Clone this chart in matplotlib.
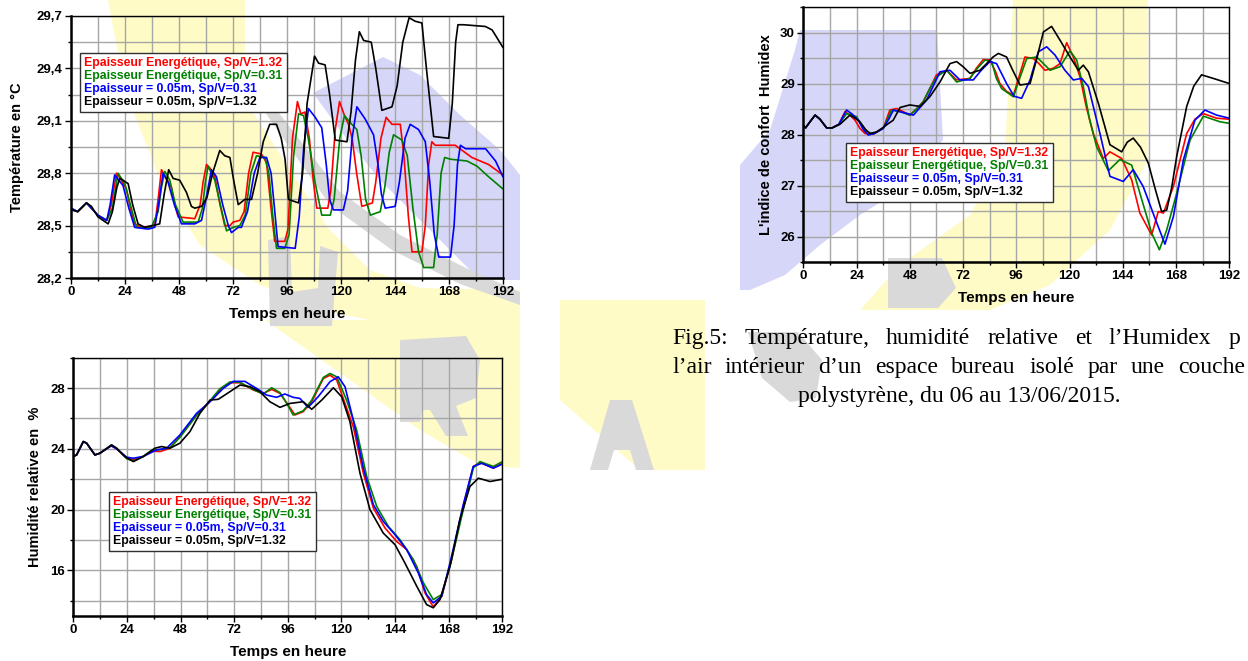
import numpy as np
import matplotlib
matplotlib.use('Agg')
import matplotlib.pyplot as plt
from matplotlib.ticker import MultipleLocator, FuncFormatter
from matplotlib.patches import Polygon

plt.rcParams['font.family'] = ['Liberation Sans', 'DejaVu Sans']

labels = ['Epaisseur Energétique, Sp/V=1.32',
          'Epaisseur Energétique, Sp/V=0.31',
          'Epaisseur = 0.05m, Sp/V=0.31',
          'Epaisseur = 0.05m, Sp/V=1.32']
colors = ['#ff0000', '#008000', '#0000ff', '#000000']

# --- Température (°C) ---
t_red_h = [0, 3, 7, 12, 16, 18, 20.3, 22.5, 24.7, 26.5, 28.4, 31.4, 37.3, 38.8, 40.3, 42.5, 44.7, 46.2, 47.7, 55.1,
           57.5, 58.8, 60.3, 61.8, 64, 66.3, 68.4, 70.7, 72.1, 75.1, 77, 79, 81, 84.7, 87, 88.8, 90.6, 95.1, 96.5,
           98.5, 100.7, 102.2, 104, 106, 107.8, 109.3, 114.2, 115.5, 117.5, 119.4, 121.6, 123.4, 125, 127, 129.3,
           134, 135.5, 137.8, 140.1, 142.7, 146.4, 148, 150, 151.6, 156, 157.5, 159, 160.4, 161.9, 170.8, 178.2,
           185.6, 192]
t_red = [28.60, 28.58, 28.63, 28.56, 28.53, 28.62, 28.80, 28.76, 28.71, 28.60, 28.51, 28.49, 28.50, 28.65, 28.82,
         28.77, 28.72, 28.62, 28.55, 28.54, 28.62, 28.75, 28.85, 28.83, 28.78, 28.62, 28.50, 28.50, 28.52, 28.53,
         28.58, 28.80, 28.92, 28.91, 28.86, 28.62, 28.41, 28.41, 28.48, 29.00, 29.21, 29.14, 29.15, 29.00, 28.75,
         28.60, 28.60, 28.70, 29.05, 29.21, 29.13, 29.08, 29.00, 28.80, 28.61, 28.63, 28.75, 29.00, 29.12, 29.08,
         29.08, 28.90, 28.55, 28.35, 28.35, 28.50, 28.85, 28.98, 28.96, 28.96, 28.89, 28.85, 28.79]

t_green_h = [0, 3, 7, 12, 16, 18.5, 21, 24, 26.5, 29.2, 35.8, 38.8, 40.3, 41.8, 44, 46.5, 49.9, 56.6, 58.5, 59.8,
             61, 64, 66.8, 69.2, 72.1, 75.1, 77.5, 80, 82.5, 86.2, 88, 89.8, 91.4, 95.1, 97, 99, 101.2, 103.4,
             105.5, 108.5, 111.5, 115.3, 117, 119.5, 121.6, 124.1, 127.1, 129, 131, 133.1, 137.5, 139.5, 141.5,
             143.4, 147.1, 149.5, 152, 154.5, 156.8, 161.2, 162.8, 164.5, 166.1, 168.7, 176, 180.5, 185.6, 192]
t_green = [28.60, 28.58, 28.63, 28.56, 28.53, 28.60, 28.80, 28.74, 28.62, 28.49, 28.49, 28.58, 28.72, 28.81, 28.76,
           28.62, 28.52, 28.52, 28.60, 28.75, 28.84, 28.76, 28.60, 28.47, 28.49, 28.50, 28.56, 28.80, 28.90, 28.89,
           28.80, 28.55, 28.37, 28.37, 28.45, 28.90, 29.14, 29.13, 29.00, 28.75, 28.56, 28.56, 28.65, 29.00, 29.13,
           29.09, 29.05, 28.90, 28.65, 28.56, 28.58, 28.72, 28.92, 29.02, 28.99, 28.90, 28.60, 28.35, 28.26, 28.26,
           28.45, 28.80, 28.89, 28.88, 28.87, 28.84, 28.78, 28.71]

t_blue_h = [0, 3, 7, 12, 16, 17.5, 19.5, 23.2, 25.8, 28.4, 34.4, 37.3, 39, 41, 43.2, 46, 49.2, 55.1, 58.1, 60.5,
            62.5, 64.7, 67.5, 70, 71.4, 74.4, 75.8, 78.5, 81.5, 84, 87, 89, 90.5, 92.1, 99.7, 101.5, 103.5, 105.6,
            108.6, 111.5, 113.5, 115, 116.7, 121.1, 123, 125, 127.1, 130.8, 134.5, 136.5, 138, 139.7, 144.1, 146,
            148.5, 150.8, 154.5, 157.5, 159.5, 161.5, 163.5, 168.7, 170.3, 171.8, 173.1, 175.4, 184.3, 188.7, 192]
t_blue = [28.60, 28.58, 28.63, 28.56, 28.53, 28.62, 28.79, 28.73, 28.60, 28.49, 28.48, 28.49, 28.62, 28.80, 28.75,
          28.62, 28.51, 28.51, 28.53, 28.68, 28.82, 28.78, 28.62, 28.50, 28.46, 28.49, 28.49, 28.58, 28.80, 28.89,
          28.89, 28.80, 28.60, 28.38, 28.37, 28.55, 28.95, 29.17, 29.12, 29.06, 28.85, 28.65, 28.59, 28.59, 28.70,
          29.00, 29.18, 29.11, 29.02, 28.85, 28.68, 28.60, 28.61, 28.75, 29.00, 29.08, 29.05, 28.98, 28.75, 28.45,
          28.32, 28.32, 28.50, 28.85, 28.96, 28.94, 28.94, 28.87, 28.78]

t_black_h = [0, 3.2, 7, 9.2, 12.1, 16.6, 18.5, 20.5, 21.8, 23.2, 25.5, 27.5, 29.9, 32.9, 39.5, 41.5, 43.5, 45.5,
             48.4, 51.4, 53.6, 55.1, 58.1, 60.5, 63, 66.2, 68.4, 70.7, 72.5, 74.4, 77.3, 80.3, 83, 85.5, 88.4,
             91.4, 93.5, 95.2, 96.7, 101.2, 103, 105, 108.3, 110.1, 113, 115, 117.5, 122.7, 124.5, 126.5, 128.2,
             130.1, 133.5, 135.5, 138.2, 142.7, 145, 147.5, 150.3, 153, 156, 158, 161.2, 167.9, 169.5, 171, 172,
             174.5, 184.2, 187.2, 192]
t_black = [28.59, 28.58, 28.63, 28.61, 28.55, 28.51, 28.58, 28.72, 28.77, 28.76, 28.74, 28.62, 28.51, 28.49, 28.51,
           28.68, 28.82, 28.77, 28.76, 28.69, 28.61, 28.60, 28.61, 28.66, 28.80, 28.93, 28.90, 28.89, 28.75, 28.62,
           28.65, 28.65, 28.80, 28.98, 29.08, 29.08, 29.00, 28.88, 28.65, 28.63, 28.80, 29.20, 29.47, 29.43, 29.42,
           29.25, 28.99, 28.98, 29.15, 29.45, 29.61, 29.56, 29.55, 29.40, 29.16, 29.18, 29.30, 29.55, 29.69, 29.67,
           29.66, 29.40, 29.01, 29.00, 29.20, 29.55, 29.65, 29.65, 29.64, 29.62, 29.52]

# --- Humidex ---
h_red_h = [0, 1, 3, 5.3, 7.5, 10.5, 13, 16, 18.8, 21, 23.3, 25.5, 27.8, 31.5, 36, 39, 42, 45, 48, 51, 54, 57, 60,
           64.6, 69.1, 75.1, 78, 81.1, 84.1, 86.5, 88.6, 91.5, 94.7, 97, 99.9, 103.7, 106, 108.9, 112.7, 115.7,
           118.7, 121.7, 124.7, 127.5, 130.7, 135.2, 138.2, 143.5, 148, 151.7, 157, 160, 162.3, 166.8, 172.8,
           176.5, 180.3, 186.3, 192]
h_red = [28.18, 28.13, 28.25, 28.38, 28.30, 28.13, 28.13, 28.20, 28.45, 28.38, 28.28, 28.12, 28.02, 28.01, 28.12,
         28.48, 28.51, 28.45, 28.38, 28.50, 28.64, 28.90, 29.17, 29.26, 29.07, 29.10, 29.30, 29.47, 29.46, 29.25,
         29.00, 28.85, 28.77, 29.10, 29.52, 29.49, 29.40, 29.26, 29.30, 29.39, 29.80, 29.52, 29.13, 28.55, 28.02,
         27.53, 27.66, 27.53, 27.11, 26.46, 26.03, 26.49, 26.46, 26.98, 28.02, 28.30, 28.41, 28.32, 28.30]

h_green_h = [0, 1, 3, 5.3, 7.5, 10.5, 13, 16, 19.5, 24, 26, 28.5, 31.5, 36, 39.8, 43.6, 48, 51, 54, 57, 60, 64.6,
             69.1, 75.1, 78.5, 81.9, 84.9, 87, 89.4, 94.7, 97.5, 100.7, 105.2, 108, 111.2, 115.7, 120.2, 123.2,
             126.2, 129, 132.2, 137.5, 142.7, 148, 151.7, 157, 160.5, 163.8, 168.3, 174.3, 180.3, 187.8, 192]
h_green = [28.18, 28.13, 28.25, 28.38, 28.30, 28.13, 28.13, 28.20, 28.41, 28.35, 28.20, 28.06, 28.01, 28.12, 28.48,
           28.45, 28.38, 28.50, 28.64, 28.90, 29.13, 29.26, 29.03, 29.10, 29.30, 29.46, 29.43, 29.10, 28.90, 28.74,
           29.10, 29.49, 29.52, 29.40, 29.26, 29.33, 29.64, 29.46, 28.94, 28.30, 27.76, 27.29, 27.51, 27.40, 26.85,
           26.07, 25.74, 26.13, 26.85, 27.89, 28.36, 28.25, 28.22]

h_blue_h = [0, 1, 3, 5.3, 7.5, 10.5, 13, 16, 19.5, 22, 24.8, 27, 29.3, 32, 36, 38.5, 40.6, 45.1, 49.6, 55.6, 61.6,
            66.1, 70.6, 76.6, 80, 84.1, 87.1, 91.6, 95, 98.4, 102.2, 105.9, 109.7, 113.4, 117.9, 121.7, 125.5, 128.5,
            133.7, 138.2, 144.2, 148.7, 153.2, 158.5, 163, 166.8, 171.3, 176.5, 181, 186.3, 192]
h_blue = [28.18, 28.13, 28.25, 28.38, 28.30, 28.13, 28.13, 28.20, 28.48, 28.40, 28.28, 28.10, 27.99, 28.02, 28.12,
          28.30, 28.48, 28.43, 28.38, 28.68, 29.23, 29.26, 29.07, 29.07, 29.25, 29.43, 29.39, 29.00, 28.75, 28.71,
          29.07, 29.62, 29.72, 29.56, 29.26, 29.07, 29.10, 28.94, 28.02, 27.18, 27.08, 27.31, 26.98, 26.36, 25.85,
          26.39, 27.50, 28.28, 28.48, 28.38, 28.32]

h_black_h = [0, 1, 3, 5.3, 7.5, 10.5, 13, 16.5, 19, 21, 23, 25.5, 28, 30, 33, 36, 38.5, 40.5, 43.6, 48, 52.6, 57,
             61.6, 66.1, 69.1, 72, 75.1, 79.6, 82.6, 85.5, 87.9, 91.6, 94.5, 97.7, 102.2, 105, 108.2, 111.9, 115.7,
             120.2, 124, 126.2, 128.5, 133, 138.2, 143.5, 146, 148.7, 152, 155.5, 158.5, 161.5, 163.8, 166, 168.3,
             172.8, 176, 179.5, 184.8, 192]
h_black = [28.18, 28.13, 28.25, 28.38, 28.30, 28.13, 28.13, 28.20, 28.30, 28.38, 28.33, 28.25, 28.10, 28.02, 28.05,
           28.14, 28.22, 28.28, 28.53, 28.58, 28.55, 28.74, 29.03, 29.39, 29.43, 29.33, 29.20, 29.26, 29.39, 29.52,
           29.59, 29.52, 29.25, 28.97, 29.00, 29.45, 30.01, 30.12, 29.85, 29.52, 29.26, 29.36, 29.23, 28.61, 27.80,
           27.66, 27.85, 27.93, 27.75, 27.44, 26.95, 26.49, 26.52, 26.95, 27.57, 28.55, 28.95, 29.17, 29.10, 29.00]

# --- Humidité relative (%) ---
rh_red_h = [0, 1.5, 4.5, 6, 9.7, 11.9, 17, 19.4, 23.9, 26.9, 31.3, 35, 38.8, 43.3, 47.7, 55.2, 59.7, 65.6, 70.1,
            74.6, 80.6, 85, 88.8, 92.5, 96.2, 99.2, 102.9, 106.7, 111.9, 114.9, 117.9, 120.8, 125.3, 129.8, 134.3,
            139.5, 144.7, 149.2, 153.7, 157.4, 161.1, 164.9, 169.3, 174.5, 179, 182, 188, 192]
rh_red = [23.5, 23.6, 24.48, 24.37, 23.6, 23.71, 24.2, 24.0, 23.4, 23.27, 23.5, 23.85, 23.82, 24.04, 24.8, 26.23,
          26.88, 27.87, 28.35, 28.35, 27.87, 27.65, 27.91, 27.65, 26.88, 26.23, 26.45, 27.1, 28.63, 28.85, 28.53,
          27.32, 25.46, 22.4, 20.1, 18.79, 17.91, 17.37, 16.27, 14.52, 13.6, 14.3, 16.71, 20.21, 22.84, 23.1,
          22.73, 23.05]

rh_green_h = [0, 1.5, 4.5, 6, 9.7, 11.9, 17, 19.4, 23.9, 26.9, 31.3, 35, 38.8, 43.3, 47.7, 55.2, 59.7, 65.6, 70.1,
              74.6, 80.6, 85, 88.8, 92.5, 95.5, 98.4, 102.9, 106.7, 111.9, 114.9, 117.9, 122.3, 126.8, 131.3, 135.8,
              141, 146.2, 152.2, 156.7, 161.1, 164.9, 169.3, 174.5, 179, 182, 188, 192]
rh_green = [23.5, 23.6, 24.48, 24.37, 23.6, 23.71, 24.25, 24.05, 23.35, 23.2, 23.5, 23.9, 23.95, 24.08, 24.75,
            26.2, 26.9, 27.95, 28.4, 28.38, 27.9, 27.6, 28.02, 27.7, 27.0, 26.23, 26.5, 27.2, 28.7, 28.96, 28.74,
            27.21, 25.24, 22.18, 20.21, 18.9, 18.02, 16.71, 15.18, 14.08, 14.41, 16.71, 19.99, 22.73, 23.16, 22.84,
            23.16]

rh_blue_h = [0, 1.5, 4.5, 6, 9.7, 11.9, 17, 19.4, 23.9, 26.9, 31.3, 37.3, 41.8, 47.7, 55.2, 61.2, 67.1, 71.6, 76.8,
             82, 86.5, 91, 94.7, 98.4, 101.4, 105.1, 109.6, 114.9, 118.6, 121.6, 125.3, 129.8, 134.3, 138.7, 144,
             149.2, 154.4, 158.1, 161.1, 164.9, 169.3, 174.5, 179, 182.8, 188, 192]
rh_blue = [23.5, 23.6, 24.48, 24.37, 23.6, 23.71, 24.2, 24.0, 23.45, 23.38, 23.5, 23.93, 24.04, 24.91, 26.34, 27.1,
           27.98, 28.44, 28.44, 27.98, 27.54, 27.39, 27.61, 27.39, 27.32, 26.73, 27.43, 28.42, 28.74, 28.09, 25.9,
           22.73, 20.32, 19.23, 18.35, 17.37, 15.83, 14.41, 13.86, 14.3, 16.93, 20.32, 22.84, 23.05, 22.73, 23.0]

rh_black_h = [0, 1.5, 4.5, 6, 9.7, 11.9, 17.2, 19.4, 23.1, 26.9, 31.3, 36.5, 39.5, 43.3, 47.7, 52.2, 56.7, 61.2,
              64.9, 70.1, 74.6, 79.1, 83.5, 88, 92.5, 97, 102.9, 106.7, 111.2, 116.4, 120.1, 123.8, 128.3, 132.8,
              138.7, 144, 148.4, 153.7, 158.1, 161.1, 164.1, 168.6, 173, 177.5, 181.3, 186.5, 192]
rh_black = [23.5, 23.6, 24.48, 24.37, 23.6, 23.71, 24.26, 24.04, 23.49, 23.16, 23.49, 24.04, 24.15, 24.04, 24.37,
            25.13, 26.34, 27.21, 27.26, 27.76, 28.2, 28.09, 27.76, 27.1, 26.73, 26.99, 27.1, 26.6, 27.21, 28.02,
            27.43, 25.79, 22.4, 19.99, 18.46, 17.69, 16.49, 14.96, 13.75, 13.54, 14.08, 16.27, 19.33, 21.52, 22.07,
            21.85, 22.0]

# caption text (the page is cut on the right, as in the source picture)
caption_lines = [["Fig.5:", "Température,", "humidité", "relative", "et", "l’Humidex", "p"],
                 ["l’air", "intérieur", "d’un", "espace", "bureau", "isolé", "par", "une", "couche"]]
caption_last = "polystyrène, du 06 au 13/06/2015."

W, H = 1248, 661
fig = plt.figure(figsize=(W / 100, H / 100), dpi=100)

# faded watermark behind the charts (pixel coords, y downwards)
bg = fig.add_axes([0, 0, 1, 1], zorder=-10)
bg.set_xlim(0, W)
bg.set_ylim(H, 0)
bg.axis('off')
yellow = '#fffbc6'
purple = '#d6d6f8'
gray = '#d9d9d9'
shapes = [
    (yellow, [(108, 0), (245, 0), (245, 100), (290, 170), (330, 230), (370, 270), (420, 288), (520, 290),
              (520, 330), (420, 330), (330, 312), (260, 285), (200, 245), (160, 180), (125, 90)]),
    (yellow, [(265, 320), (520, 320), (520, 468), (480, 465), (420, 430), (350, 380)]),
    (yellow, [(560, 300), (705, 300), (705, 470), (640, 470), (560, 400)]),
    (yellow, [(1013, 0), (1148, 0), (1148, 160), (1110, 230), (1050, 285), (990, 310), (860, 310), (900, 265),
              (970, 215), (1005, 150)]),
    (purple, [(313, 93), (383, 57), (420, 75), (460, 115), (500, 150), (520, 175), (520, 280), (480, 280),
              (430, 230), (380, 180), (340, 130)]),
    (purple, [(800, 30), (937, 30), (943, 140), (900, 190), (860, 215), (820, 245), (785, 275), (750, 290),
              (740, 290), (740, 165), (770, 130), (795, 50)]),
    (gray, [(262, 108), (272, 104), (340, 192), (400, 235), (470, 270), (520, 292), (520, 305), (460, 284),
            (392, 250), (330, 205)]),
    (gray, [(268, 240), (290, 236), (292, 292), (318, 288), (320, 246), (338, 252), (332, 326), (270, 326)]),
    (gray, [(400, 340), (466, 336), (480, 360), (476, 398), (456, 406), (468, 436), (446, 436), (430, 410),
            (422, 410), (420, 422), (400, 422)]),
    (gray, [(590, 470), (610, 400), (632, 400), (654, 470), (636, 470), (630, 450), (614, 450), (608, 470)]),
    (gray, [(748, 332), (798, 332), (822, 360), (816, 398), (790, 402), (762, 378)]),
    (gray, [(888, 258), (942, 258), (956, 288), (938, 308), (888, 308)]),
]
for c, pts in shapes:
    bg.add_patch(Polygon(pts, closed=True, facecolor=c, edgecolor='none'))

leg_prop = {'family': 'Liberation Sans', 'weight': 'bold', 'size': 8.8}


def style_axes(ax, ymin, ymax, ymajor, yminor, yfmt, ylabel, leg_xy, ylabelpad):
    ax.set_facecolor('none')
    ax.set_xlim(0, 192)
    ax.set_ylim(ymin, ymax)
    ax.xaxis.set_major_locator(MultipleLocator(24))
    ax.xaxis.set_minor_locator(MultipleLocator(12))
    ax.yaxis.set_major_locator(MultipleLocator(ymajor))
    ax.yaxis.set_minor_locator(MultipleLocator(yminor))
    ax.yaxis.set_major_formatter(FuncFormatter(yfmt))
    ax.grid(True, which='both', color='#a6a6a6', linewidth=1.0, zorder=0)
    ax.set_axisbelow(True)
    ax.tick_params(which='major', direction='out', length=4, width=1, pad=2)
    ax.tick_params(which='minor', direction='out', length=2.5, width=1)
    for lab in ax.get_xticklabels() + ax.get_yticklabels():
        lab.set_fontfamily('Liberation Sans')
        lab.set_fontweight('bold')
        lab.set_fontsize(9.5)
    for side in ['top', 'right']:
        ax.spines[side].set_linewidth(1.0)
    for side in ['left', 'bottom']:
        ax.spines[side].set_linewidth(1.8)
    ax.set_xlabel('Temps en heure', fontsize=11, fontweight='bold', labelpad=6)
    ax.set_ylabel(ylabel, fontsize=10.5, fontweight='bold', labelpad=ylabelpad)
    leg = ax.legend(labels, loc='upper left', bbox_to_anchor=leg_xy, borderaxespad=0,
                    handlelength=0, handletextpad=0, labelcolor='linecolor', prop=leg_prop,
                    fancybox=False, framealpha=1, edgecolor='#303030', borderpad=0.35,
                    labelspacing=0.08)
    leg.get_frame().set_linewidth(1.0)


def comma(v, pos):
    return f'{v:.1f}'.replace('.', ',')


def integer(v, pos):
    return f'{v:.0f}'


# Température
ax1 = fig.add_axes([0.0567, 0.5794, 0.3463, 0.3964])
for hh, vv, c in zip([t_red_h, t_green_h, t_blue_h, t_black_h], [t_red, t_green, t_blue, t_black], colors):
    ax1.plot(hh, vv, color=c, linewidth=1.2)
style_axes(ax1, 28.2, 29.7, 0.3, 0.15, comma, 'Température en °C', (0.0215, 0.859), 9)

# Humidex
ax2 = fig.add_axes([0.6437, 0.6036, 0.3413, 0.3858])
for hh, vv, c in zip([h_red_h, h_green_h, h_blue_h, h_black_h], [h_red, h_green, h_blue, h_black], colors):
    ax2.plot(hh, vv, color=c, linewidth=1.2)
style_axes(ax2, 25.5, 30.5, 1, 0.5, integer, "L'indice de confort  Humidex", (0.100, 0.467), 5)

# Humidité relative
ax3 = fig.add_axes([0.0587, 0.0681, 0.3438, 0.3908])
for hh, vv, c in zip([rh_red_h, rh_green_h, rh_blue_h, rh_black_h], [rh_red, rh_green, rh_blue, rh_black], colors):
    ax3.plot(hh, vv, color=c, linewidth=1.2)
style_axes(ax3, 13, 30, 4, 2, integer, 'Humidité relative en  %', (0.083, 0.48), 6)
ax3.set_yticks([16, 20, 24, 28])

# caption: first two lines justified between x0 and x1 (pixels)
cap = {'family': 'Liberation Serif', 'size': 17, 'color': '#000000', 'va': 'baseline'}
renderer = fig.canvas.get_renderer()
for words, base, x0, x1 in zip(caption_lines, [344, 373], [672, 672], [1240, 1245]):
    texts = [fig.text(0, 1 - base / H, w, ha='left', **cap) for w in words]
    widths = [t.get_window_extent(renderer).width for t in texts]
    gap = (x1 - x0 - sum(widths)) / (len(words) - 1)
    x = x0
    for t, w in zip(texts, widths):
        t.set_x(x / W)
        x += w + gap
fig.text(798 / W, 1 - 402 / H, caption_last, ha='left', **cap)

fig.savefig('out.png', dpi=100)
